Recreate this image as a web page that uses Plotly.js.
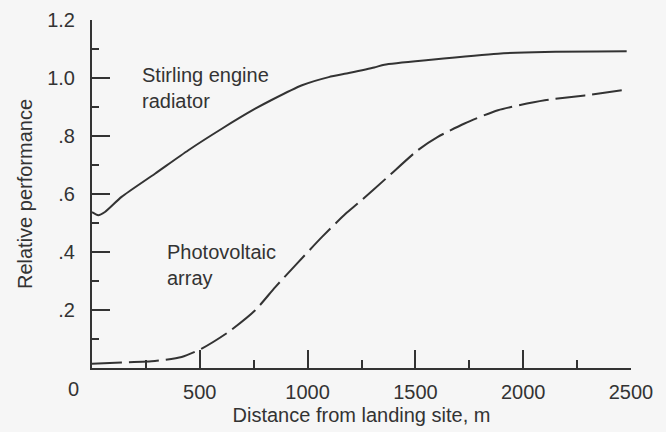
<!DOCTYPE html>
<html>
<head>
<meta charset="utf-8">
<script src="https://cdn.plot.ly/plotly-3.0.1.min.js"></script>
<style>
  html, body { margin: 0; padding: 0; background: #f6f6f6; }
  #chart { width: 666px; height: 432px; }
</style>
</head>
<body>
<div id="chart"></div>
<script>
// Stirling engine radiator (solid curve)
const stirlingDistance = [0, 29, 60, 137, 292, 447, 602, 757, 835, 974, 1098, 1191, 1309, 1356, 1573, 1883, 2100, 2480];
const stirlingPerformance = [0.538, 0.527, 0.538, 0.590, 0.670, 0.751, 0.825, 0.894, 0.925, 0.975, 1.003, 1.017, 1.036, 1.046, 1.063, 1.084, 1.090, 1.092];

// Photovoltaic array (dashed curve)
const pvDistance = [0, 137, 292, 416, 509, 633, 757, 850, 943, 1067, 1176, 1232, 1372, 1511, 1604, 1728, 1883, 2100, 2286, 2480];
const pvPerformance = [0.015, 0.019, 0.024, 0.038, 0.067, 0.124, 0.199, 0.279, 0.354, 0.452, 0.532, 0.567, 0.659, 0.751, 0.797, 0.843, 0.889, 0.923, 0.940, 0.960];

// Axis ticks
const xTickVals = [0, 500, 1000, 1500, 2000, 2500];
const xTickText = ["", "500", "1000", "1500", "2000", "2500"];
const xMinorVals = [250, 750, 1250, 1750, 2250];
const yTickVals = [0.2, 0.4, 0.6, 0.8, 1.0, 1.2];
const yTickText = [".2", ".4", ".6", ".8", "1.0", "1.2"];
const yMinorVals = [0.1, 0.3, 0.5, 0.7, 0.9, 1.1];

const ink = "#333333";
const font = { family: "Liberation Sans, Arial, Helvetica, sans-serif", size: 20, color: ink };

const traces = [
  {
    x: stirlingDistance, y: stirlingPerformance, type: "scatter", mode: "lines",
    name: "Stirling engine radiator",
    line: { color: ink, width: 2, shape: "spline", smoothing: 0.6 }
  },
  {
    x: pvDistance, y: pvPerformance, type: "scatter", mode: "lines",
    name: "Photovoltaic array",
    line: { color: ink, width: 2, shape: "spline", smoothing: 0.6, dash: "30px,7px" }
  }
];

const layout = {
  width: 666, height: 432,
  margin: { l: 92, r: 35, t: 20, b: 64 },
  paper_bgcolor: "#f6f6f6", plot_bgcolor: "#f6f6f6",
  showlegend: false,
  font: font,
  xaxis: {
    range: [0, 2500], showgrid: false, zeroline: false,
    showline: true, linecolor: ink, linewidth: 2,
    tickmode: "array", tickvals: xTickVals, ticktext: xTickText,
    ticks: "inside", ticklen: 18, tickwidth: 2, tickcolor: ink,
    ticklabelstandoff: 5,
    minor: { tickmode: "array", tickvals: xMinorVals, ticks: "inside", ticklen: 8, tickwidth: 2, tickcolor: ink },
    tickfont: font,
    title: { text: "Distance from landing site, m", font: font, standoff: 6 },
    automargin: false, fixedrange: true
  },
  yaxis: {
    range: [0, 1.2], showgrid: false, zeroline: false,
    showline: true, linecolor: ink, linewidth: 2,
    tickmode: "array", tickvals: yTickVals, ticktext: yTickText,
    ticks: "inside", ticklen: 18, tickwidth: 2, tickcolor: ink,
    ticklabelstandoff: 11,
    minor: { tickmode: "array", tickvals: yMinorVals, ticks: "inside", ticklen: 7, tickwidth: 2, tickcolor: ink },
    tickfont: font,
    title: { text: "Relative performance", font: font, standoff: 9 },
    automargin: false, fixedrange: true
  },
  annotations: [
    { x: 222, y: 0.964, xref: "x", yref: "y", xanchor: "left", yanchor: "middle", align: "left",
      text: "Stirling engine<br>radiator", showarrow: false, font: font },
    { x: 340, y: 0.356, xref: "x", yref: "y", xanchor: "left", yanchor: "middle", align: "left",
      text: "Photovoltaic<br>array", showarrow: false, font: font },
    { x: 0, y: 0, xref: "x", yref: "y", xanchor: "center", yanchor: "middle", xshift: -19, yshift: -21,
      text: "0", showarrow: false, font: font }
  ]
};

Plotly.newPlot("chart", traces, layout, { staticPlot: true, displayModeBar: false });
</script>
</body>
</html>
